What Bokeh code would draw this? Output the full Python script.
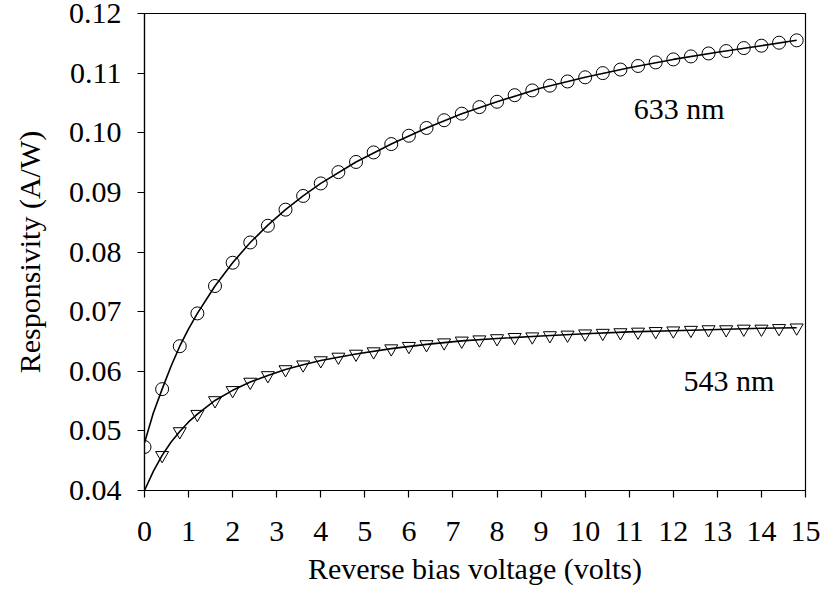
from bokeh.plotting import figure
from bokeh.models import Range1d, FixedTicker, ColumnDataSource
from bokeh.core.properties import value
from bokeh.embed import file_html
from bokeh.resources import INLINE

# ---- data ----
x_633 = [0.0, 0.4, 0.8, 1.2, 1.6, 2.0, 2.4, 2.8, 3.2, 3.6, 4.0, 4.4, 4.8, 5.2, 5.6, 6.0,
         6.4, 6.8, 7.2, 7.6, 8.0, 8.4, 8.8, 9.2, 9.6, 10.0, 10.4, 10.8, 11.2, 11.6, 12.0,
         12.4, 12.8, 13.2, 13.6, 14.0, 14.4, 14.8]
r_633 = [0.0473, 0.0570, 0.0642, 0.0697, 0.0743, 0.0782, 0.0816, 0.0844, 0.0871, 0.0894,
         0.0915, 0.0934, 0.0951, 0.0967, 0.0981, 0.0995, 0.1008, 0.1021, 0.1032, 0.1043,
         0.1052, 0.1063, 0.1071, 0.1079, 0.1086, 0.1093, 0.1100, 0.1106, 0.1112, 0.1118,
         0.1123, 0.1128, 0.1133, 0.1137, 0.1142, 0.1146, 0.1151, 0.1155]

x_543 = [0.4, 0.8, 1.2, 1.6, 2.0, 2.4, 2.8, 3.2, 3.6, 4.0, 4.4, 4.8, 5.2, 5.6, 6.0,
         6.4, 6.8, 7.2, 7.6, 8.0, 8.4, 8.8, 9.2, 9.6, 10.0, 10.4, 10.8, 11.2, 11.6, 12.0,
         12.4, 12.8, 13.2, 13.6, 14.0, 14.4, 14.8]
r_543 = [0.0459, 0.0499, 0.0528, 0.0551, 0.0568, 0.0582, 0.0593, 0.0603, 0.0611, 0.0618,
         0.0624, 0.0629, 0.0633, 0.0638, 0.0642, 0.0645, 0.0648, 0.0651, 0.0653, 0.0655,
         0.0657, 0.0658, 0.0660, 0.0661, 0.0663, 0.0664, 0.0665, 0.0666, 0.0667, 0.0668,
         0.0669, 0.0670, 0.0670, 0.0671, 0.0671, 0.0672, 0.0673]

fit_x = [0.0, 0.2, 0.4, 0.6, 0.8, 1.0, 1.2, 1.6, 2.0, 2.4, 2.8, 3.2, 3.6, 4.0, 4.8, 5.6,
         6.4, 7.2, 8.0, 9.0, 10.0, 11.0, 12.0, 13.0, 14.0, 14.8]
fit_633 = [0.0480, 0.0530, 0.0570, 0.0608, 0.0642, 0.0671, 0.0697, 0.0743, 0.0782, 0.0816,
           0.0845, 0.0871, 0.0894, 0.0915, 0.0951, 0.0981, 0.1008, 0.1032, 0.1052, 0.1075,
           0.1093, 0.1109, 0.1123, 0.1135, 0.1146, 0.1155]
fit_543 = [0.0400, 0.0432, 0.0459, 0.0481, 0.0499, 0.0515, 0.0528, 0.0551, 0.0568, 0.0582,
           0.0593, 0.0603, 0.0611, 0.0618, 0.0629, 0.0638, 0.0645, 0.0651, 0.0655, 0.0659,
           0.0663, 0.0666, 0.0668, 0.0670, 0.0672, 0.0673]

x_ticks = list(range(0, 16))
y_ticks = [0.04, 0.05, 0.06, 0.07, 0.08, 0.09, 0.10, 0.11, 0.12]

labels = ["633 nm", "543 nm"]
label_x = [11.1, 12.23]
label_y = [0.1040, 0.0585]

FONT = "'Liberation Serif', 'DejaVu Serif', serif"

p = figure(width=823, height=601, output_backend="svg", toolbar_location=None,
           x_range=Range1d(0, 15), y_range=Range1d(0.04, 0.12),
           min_border_left=144, min_border_right=18, min_border_top=13,
           min_border_bottom=111)
p.background_fill_color = "white"
p.border_fill_color = "white"
p.outline_line_color = "black"
p.outline_line_width = 1.2
p.xgrid.visible = False
p.ygrid.visible = False

for ax in (p.xaxis[0], p.yaxis[0]):
    ax.axis_line_color = "black"
    ax.axis_line_width = 1.2
    ax.major_tick_line_color = "black"
    ax.major_tick_line_width = 1.2
    ax.major_tick_in = 0
    ax.major_tick_out = 7
    ax.minor_tick_line_color = None
    ax.major_label_text_font = FONT
    ax.major_label_text_font_size = "30px"
    ax.major_label_text_color = "black"
    ax.axis_label_text_font = FONT
    ax.axis_label_text_font_size = "30px"
    ax.axis_label_text_font_style = "normal"
    ax.axis_label_text_color = "black"

p.xaxis.ticker = FixedTicker(ticks=x_ticks)
p.yaxis.ticker = FixedTicker(ticks=y_ticks)
p.yaxis.major_label_overrides = {t: f"{t:.2f}" for t in y_ticks}
p.xaxis.major_label_standoff = 24
p.yaxis.major_label_standoff = 16
p.xaxis.axis_label = "Reverse bias voltage (volts)"
p.yaxis.axis_label = "Responsivity (A/W)"
p.xaxis.axis_label_standoff = 8
p.yaxis.axis_label_standoff = 20

p.line(fit_x, fit_633, line_color="black", line_width=1.6)
p.line(fit_x, fit_543, line_color="black", line_width=1.6)

p.scatter(x_633, r_633, marker="circle", size=13, fill_alpha=0,
          line_color="black", line_width=1)
p.scatter(x_543, r_543, marker="inverted_triangle", size=13, fill_alpha=0,
          line_color="black", line_width=1)

src = ColumnDataSource(dict(x=label_x, y=label_y, t=labels))
p.text(x="x", y="y", text="t", source=src, text_font=value(FONT),
       text_font_size="30px", text_align="left", text_baseline="alphabetic",
       text_color="black")

open("out.html", "w").write(file_html(p, INLINE))
